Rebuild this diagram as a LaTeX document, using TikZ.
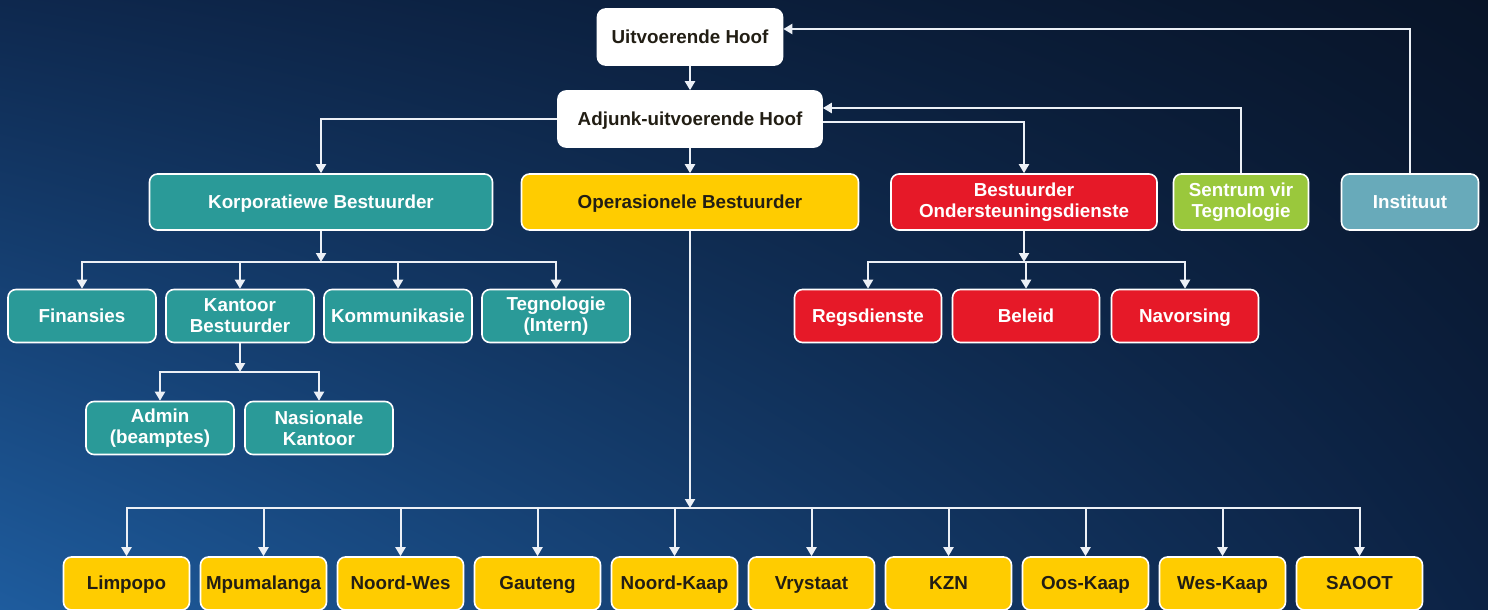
\documentclass[tikz,border=0pt]{standalone}
\usepackage{fontspec}
\setmainfont{Liberation Sans}
\usetikzlibrary{arrows.meta}
\usetikzlibrary{positioning, shadings}

\definecolor{bgUL}{RGB}{14,40,78}
\definecolor{bgUR}{RGB}{8,20,40}
\definecolor{bgLL}{RGB}{30,92,158}
\definecolor{bgLR}{RGB}{12,34,68}
\definecolor{tealbox}{RGB}{42,154,152}
\definecolor{yelbox}{RGB}{255,204,0}
\definecolor{redbox}{RGB}{230,25,40}
\definecolor{grnbox}{RGB}{154,200,60}
\definecolor{instbox}{RGB}{104,170,186}
\definecolor{donker}{RGB}{34,30,20}
\definecolor{lyncol}{RGB}{236,240,246}

\begin{document}
\begin{tikzpicture}[x=0.5pt,y=-0.5pt,
    box/.style={draw=white, line width=0.8pt, rounded corners=4pt, align=center,
      inner sep=0pt, font=\bfseries\fontsize{9.4}{10.5}\selectfont},
    een/.style={text height=7pt, text depth=0.6pt},
    wbox/.style={box, een, fill=white, text=donker, minimum height=28pt},
    tbox/.style={box, fill=tealbox, text=white, minimum width=74pt, minimum height=26.5pt},
    rbox/.style={box, fill=redbox, text=white, minimum width=73.5pt, minimum height=26.5pt},
    ybox/.style={box, een, fill=yelbox, text=donker, minimum width=63pt, minimum height=26.5pt},
    lyn/.style={draw=lyncol, line width=1pt, -{Triangle[width=5pt,length=4.5pt]}}]

  % agtergrond
  \shade[upper left=bgUL, upper right=bgUR, lower left=bgLL, lower right=bgLR]
    (0,0) rectangle (1488,610);
  \useasboundingbox (0,0) rectangle (1488,610);

  % bestuur
  \node[wbox, minimum width=92.5pt] (uit) at (690,37) {Uitvoerende Hoof};
  \node[wbox, minimum width=132pt] (adj) at (690,119) {Adjunk-uitvoerende Hoof};

  \node[tbox, een, minimum width=171.5pt, minimum height=28pt] (korp) at (321,202) {Korporatiewe Bestuurder};
  \node[box, een, fill=yelbox, text=donker, minimum width=168.5pt, minimum height=28pt] (oper) at (690,202) {Operasionele Bestuurder};
  \node[rbox, minimum width=133pt, minimum height=28pt] (ond) at (1024,202) {Bestuurder\\Ondersteuningsdienste};
  \node[box, fill=grnbox, text=white, minimum width=67.5pt, minimum height=28pt] (sent) at (1241,202) {Sentrum vir\\Tegnologie};
  \node[box, een, fill=instbox, text=white, minimum width=68.5pt, minimum height=28pt] (inst) at (1410,202) {Instituut};

  % korporatief
  \node[tbox, een] (fin) at (82,316) {Finansies};
  \node[tbox] (kant) at (240,316) {Kantoor\\Bestuurder};
  \node[tbox, een] (komm) at (398,316) {Kommunikasie};
  \node[tbox] (tegi) at (556,316) {Tegnologie\\(Intern)};
  \node[tbox] (admin) at (160,428) {Admin\\(beamptes)};
  \node[tbox] (nas) at (319,428) {Nasionale\\Kantoor};

  % ondersteuning
  \node[rbox, een] (regs) at (868,316) {Regsdienste};
  \node[rbox, een] (bel) at (1026,316) {Beleid};
  \node[rbox, een] (nav) at (1185,316) {Navorsing};

  % provinsies
  \foreach \naam [count=\i from 0] in {Limpopo,Mpumalanga,Noord-Wes,Gauteng,Noord-Kaap,
      Vrystaat,KZN,Oos-Kaap,Wes-Kaap,SAOOT}
    \node[ybox] (p_\i) at (126.5+137*\i,583.5) {\naam};

  \coordinate (kbus) at (321,262);
  \coordinate (kabus) at (240,372);
  \coordinate (obus) at (690,508);
  \coordinate (rbus) at (1024,262);

  \draw[lyn] (uit) -- (adj);
  \draw[lyn] (adj) -- (oper);
  \draw[lyn] (adj.west) -| (korp);
  \draw[lyn] ([yshift=-1.5pt]adj.east) -| (ond);
  \draw[lyn] (sent) |- ([yshift=5.5pt]adj.east);
  \draw[lyn] (inst) |- ([yshift=4pt]uit.east);

  \draw[lyn] (korp) -- (kbus);
  \foreach \n in {fin,kant,komm,tegi}
    \draw[lyn] (kbus) -| (\n);
  \draw[lyn] (kant) -- (kabus);
  \foreach \n in {admin,nas}
    \draw[lyn] (kabus) -| (\n);
  \draw[lyn] (ond) -- (rbus);
  \foreach \n in {regs,bel,nav}
    \draw[lyn] (rbus) -| (\n);
  \draw[lyn] (oper) -- (obus);
  \foreach \i in {0,...,9}
    \draw[lyn] (obus) -| (p_\i);
\end{tikzpicture}
\end{document}
